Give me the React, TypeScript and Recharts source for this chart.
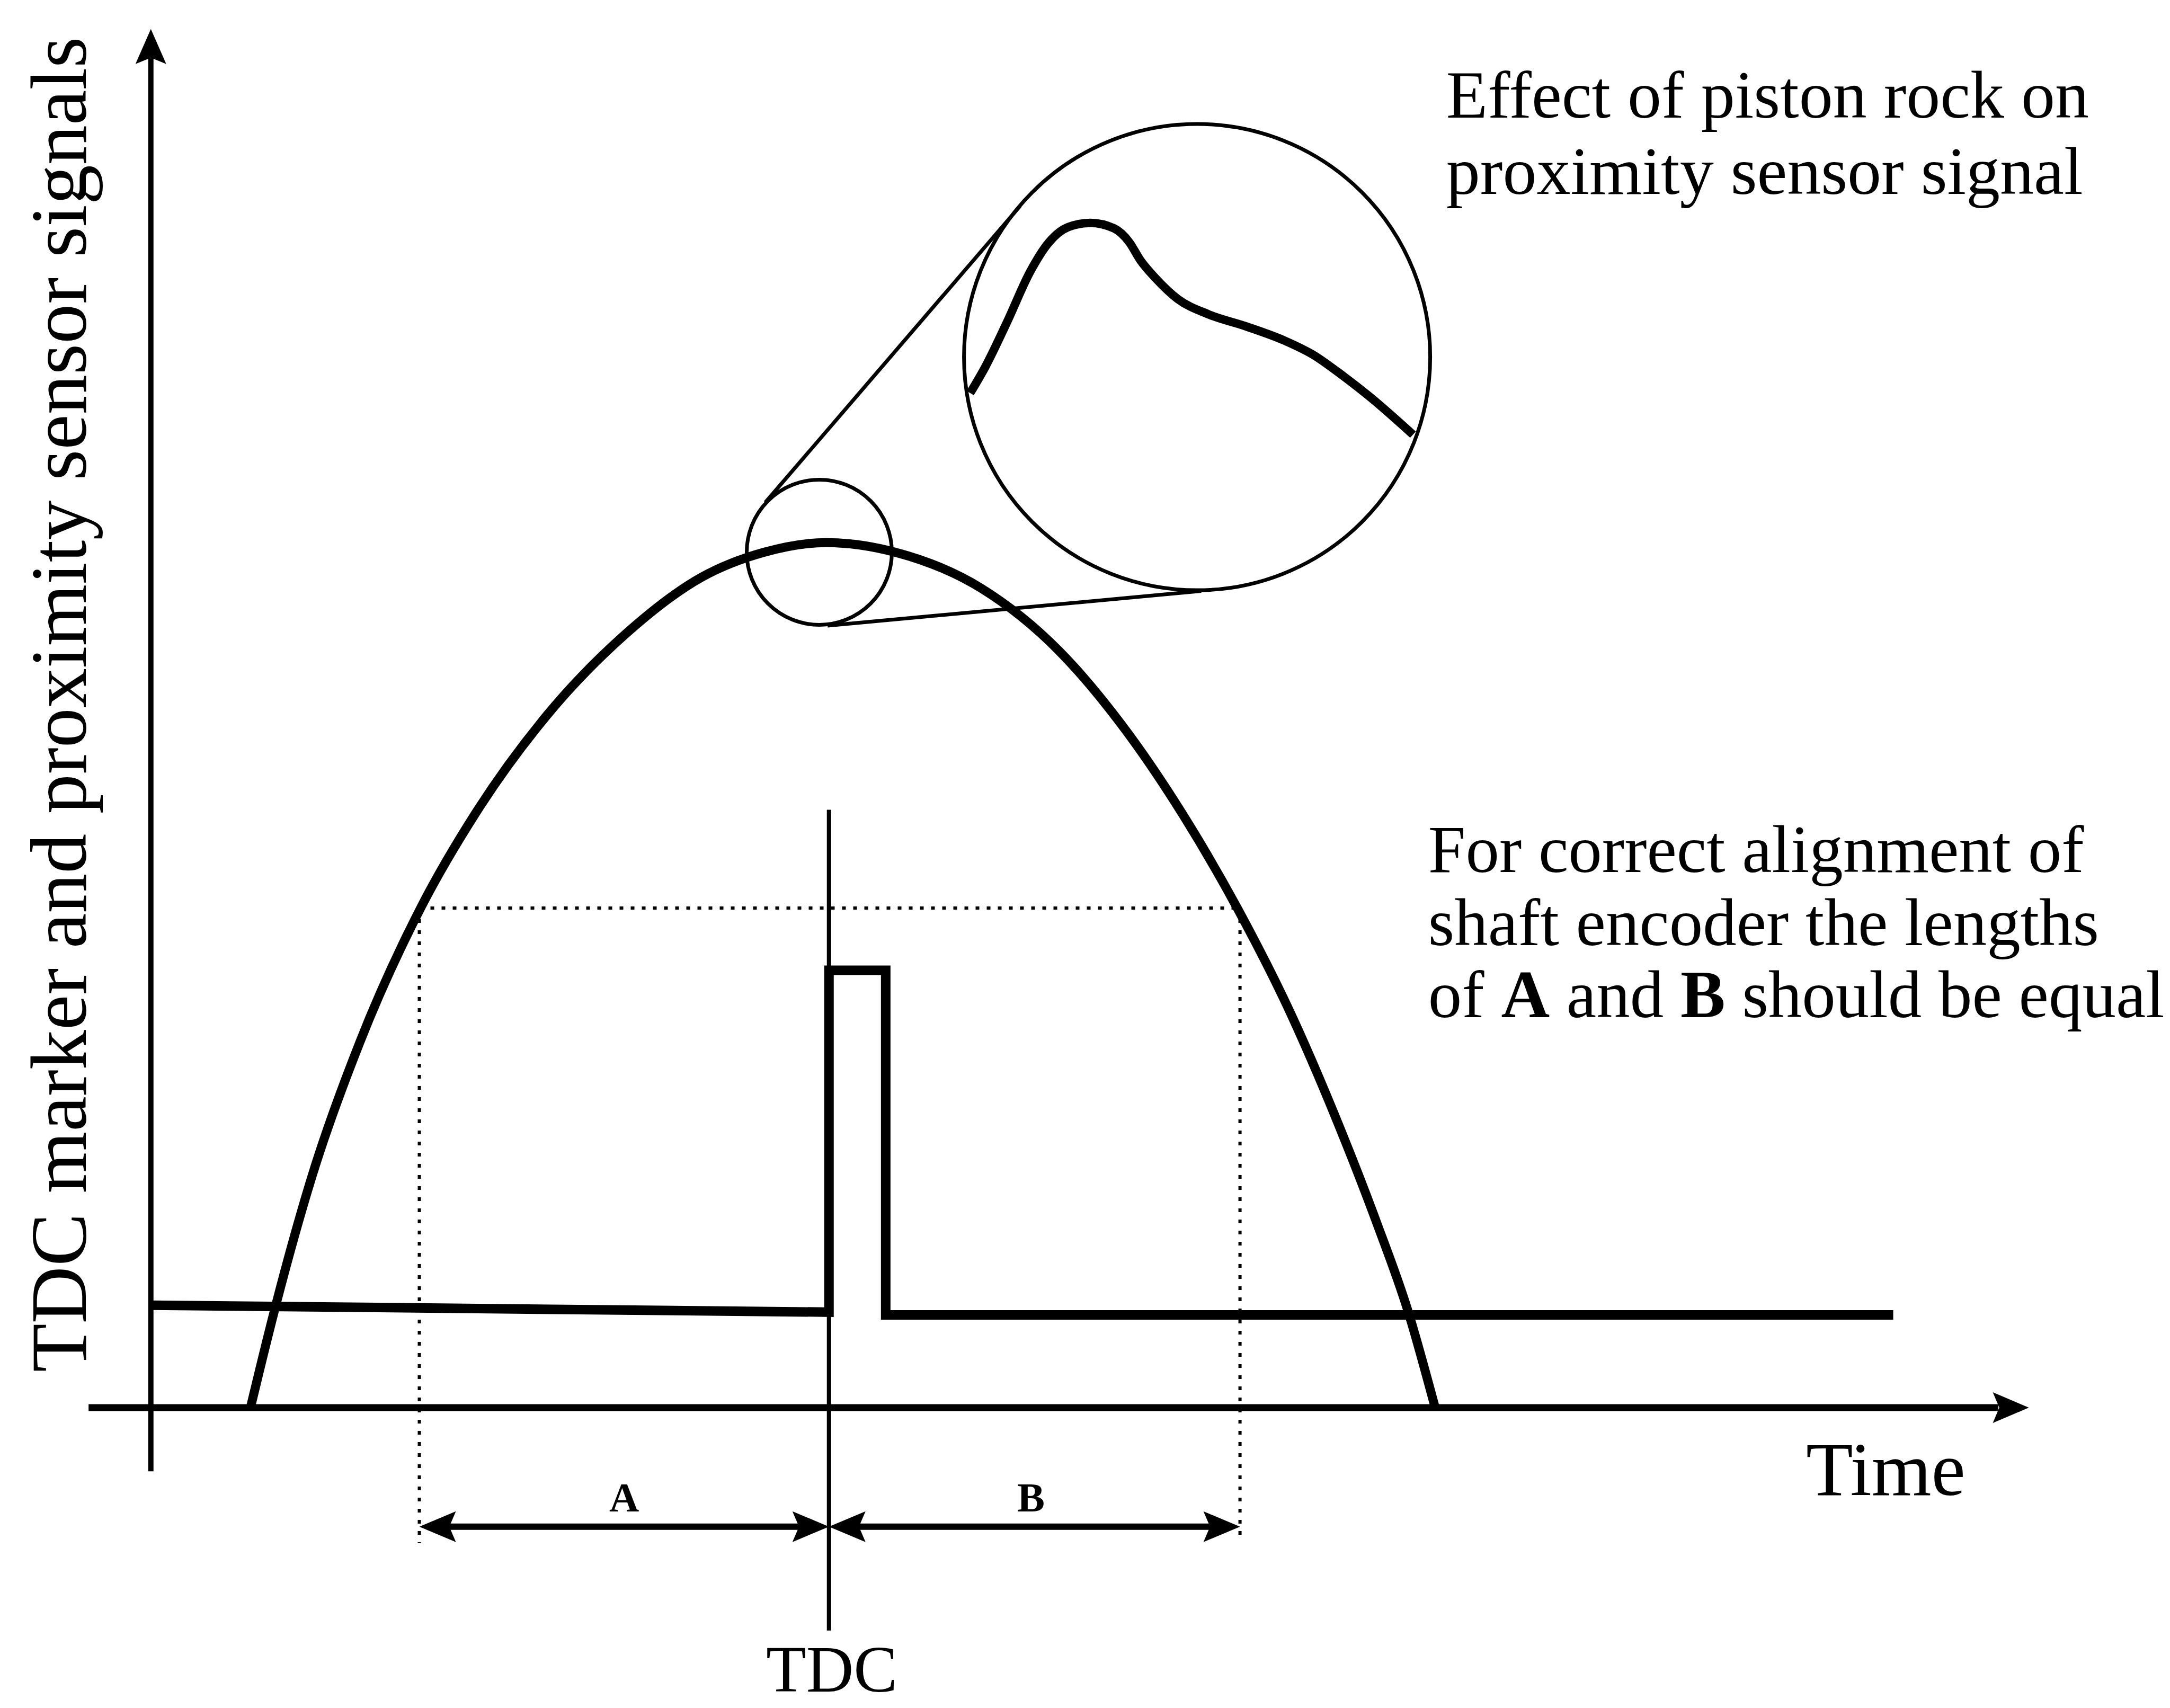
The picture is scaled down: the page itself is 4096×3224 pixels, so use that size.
import React from "react";
import { ComposedChart, Line, XAxis, YAxis, ReferenceLine, ReferenceDot } from "recharts";

const W = 4096;
const H = 3224;
const FONT = "'Liberation Serif', 'Times New Roman', serif";

// time / signal domain (axes cross at 0,0)
const timeDomain = [-109, 1459];
const levelDomain = [-217, 1017];

// proximity sensor signal
const proximity = [
  { t: 72, s: 0 }, { t: 89, s: 69 }, { t: 117, s: 169 }, { t: 151, s: 264 },
  { t: 196, s: 363 }, { t: 235, s: 430 }, { t: 286, s: 500 }, { t: 342, s: 558 },
  { t: 398, s: 600 }, { t: 443, s: 618 }, { t: 488, s: 625 }, { t: 538, s: 618 },
  { t: 600, s: 592 }, { t: 656, s: 547 }, { t: 701, s: 494 }, { t: 746, s: 428 },
  { t: 785, s: 361 }, { t: 824, s: 284 }, { t: 858, s: 205 }, { t: 886, s: 133 },
  { t: 908, s: 71 }, { t: 928, s: 0 },
];

// TDC marker pulse
const tdcMarker = [
  { t: 1, s: 74 }, { t: 490, s: 69 }, { t: 490, s: 316 }, { t: 531, s: 316 },
  { t: 531, s: 67 }, { t: 1259, s: 67 },
];

// magnified piston-rock detail drawn inside the big circle
const rockDetail = [
  { t: 592, s: 733 }, { t: 603, s: 752 }, { t: 619, s: 785 }, { t: 635, s: 820 },
  { t: 649, s: 842 }, { t: 663, s: 853 }, { t: 679, s: 856 }, { t: 696, s: 852 },
  { t: 707, s: 842 }, { t: 715, s: 829 }, { t: 726, s: 816 }, { t: 742, s: 801 },
  { t: 764, s: 790 }, { t: 792, s: 781 }, { t: 819, s: 771 }, { t: 841, s: 760 },
  { t: 858, s: 748 }, { t: 880, s: 731 }, { t: 912, s: 703 },
];

// guide positions
const levelAB = 361;
const edgeA = 194;
const tdcTime = 490;
const edgeB = 787;
const arrowLevel = -86;
const smallLens = { t: 483, s: 618 };
const bigLens = { t: 756, s: 759 };
const lensLinks = [
  [{ x: 444, y: 654 }, { x: 628, y: 868 }],
  [{ x: 489, y: 565 }, { x: 759, y: 590 }],
];

const yLabel = "TDC marker and proximity sensor signals";
const noteTop = ["Effect of piston rock on", "proximity sensor signal"];
const noteMid = ["For correct alignment of", "shaft encoder the lengths"];

const head = (dir: string, len: number, half: number) => (p: any) => {
  const { cx, cy } = p;
  const n = len * 0.82;
  let pts: number[][] = [];
  if (dir === "up") pts = [[cx, cy], [cx + half, cy + len], [cx, cy + n], [cx - half, cy + len]];
  if (dir === "right") pts = [[cx, cy], [cx - len, cy - half], [cx - n, cy], [cx - len, cy + half]];
  if (dir === "left") pts = [[cx, cy], [cx + len, cy - half], [cx + n, cy], [cx + len, cy + half]];
  return <polygon points={pts.map((q) => q.join(",")).join(" ")} fill="#000" />;
};

const ring = (r: number) => (p: any) => (
  <circle cx={p.cx} cy={p.cy} r={r} fill="none" stroke="#000" strokeWidth={7} />
);

const label = (txt: string, size: number, anchor = "start", weight = "normal") => (p: any) => (
  <text x={p.cx} y={p.cy} fontFamily={FONT} fontSize={size} fontWeight={weight} textAnchor={anchor} fill="#000">
    {txt}
  </text>
);

export default function App() {
  return (
    <div style={{ width: W, height: H, background: "#fff" }}>
      <style>{"html,body{margin:0;padding:0;background:#fff}"}</style>
      <ComposedChart width={W} height={H} margin={{ top: 0, right: 0, bottom: 0, left: 0 }}>
        <XAxis type="number" dataKey="t" domain={timeDomain} allowDataOverflow hide />
        <YAxis type="number" dataKey="s" domain={levelDomain} allowDataOverflow hide />

        {/* axes */}
        <ReferenceLine ifOverflow="visible" segment={[{ x: 0, y: -46 }, { x: 0, y: 975 }]} stroke="#000" strokeWidth={10} />
        <ReferenceDot ifOverflow="visible" x={0} y={996} shape={head("up", 66, 29)} />
        <ReferenceLine ifOverflow="visible" segment={[{ x: -45, y: 0 }, { x: 1335, y: 0 }]} stroke="#000" strokeWidth={13} />
        <ReferenceDot ifOverflow="visible" x={1357} y={0} shape={head("right", 68, 29)} />

        {/* dotted guides */}
        <ReferenceLine ifOverflow="visible" segment={[{ x: edgeA, y: levelAB }, { x: edgeB, y: levelAB }]} stroke="#000" strokeWidth={6} strokeDasharray="7 14" />
        <ReferenceLine ifOverflow="visible" segment={[{ x: edgeA, y: levelAB }, { x: edgeA, y: -98 }]} stroke="#000" strokeWidth={6} strokeDasharray="7 14" />
        <ReferenceLine ifOverflow="visible" segment={[{ x: edgeB, y: levelAB }, { x: edgeB, y: -93 }]} stroke="#000" strokeWidth={6} strokeDasharray="7 14" />

        {/* TDC line */}
        <ReferenceLine ifOverflow="visible" segment={[{ x: tdcTime, y: 432 }, { x: tdcTime, y: -161 }]} stroke="#000" strokeWidth={8} />

        {/* A and B arrows */}
        <ReferenceLine ifOverflow="visible" segment={[{ x: edgeA + 15, y: arrowLevel }, { x: tdcTime - 15, y: arrowLevel }]} stroke="#000" strokeWidth={12} />
        <ReferenceLine ifOverflow="visible" segment={[{ x: tdcTime + 15, y: arrowLevel }, { x: edgeB - 15, y: arrowLevel }]} stroke="#000" strokeWidth={12} />
        <ReferenceDot ifOverflow="visible" x={edgeA} y={arrowLevel} shape={head("left", 69, 29)} />
        <ReferenceDot ifOverflow="visible" x={tdcTime} y={arrowLevel} shape={head("right", 69, 29)} />
        <ReferenceDot ifOverflow="visible" x={tdcTime} y={arrowLevel} shape={head("left", 69, 29)} />
        <ReferenceDot ifOverflow="visible" x={edgeB} y={arrowLevel} shape={head("right", 69, 29)} />

        {/* magnifier */}
        <ReferenceDot ifOverflow="visible" x={smallLens.t} y={smallLens.s} shape={ring(137)} />
        <ReferenceDot ifOverflow="visible" x={bigLens.t} y={bigLens.s} shape={ring(440)} />
        {lensLinks.map((seg, i) => (
          <ReferenceLine key={i} ifOverflow="visible" segment={seg} stroke="#000" strokeWidth={7} />
        ))}

        <Line data={proximity} dataKey="s" type="monotone" stroke="#000" strokeWidth={17} dot={false} activeDot={false} isAnimationActive={false} />
        <Line data={tdcMarker} dataKey="s" type="linear" stroke="#000" strokeWidth={18} strokeLinejoin="miter" dot={false} activeDot={false} isAnimationActive={false} />
        <Line data={rockDetail} dataKey="s" type="monotone" stroke="#000" strokeWidth={16} dot={false} activeDot={false} isAnimationActive={false} />

        {/* texts */}
        <ReferenceDot ifOverflow="visible" x={-47} y={508} shape={(p: any) => (
          <text x={p.cx} y={p.cy} transform={`rotate(-90 ${p.cx} ${p.cy})`} fontFamily={FONT} fontSize={150} textAnchor="middle" fill="#000">
            {yLabel}
          </text>
        )} />
        <ReferenceDot ifOverflow="visible" x={342} y={-75} shape={label("A", 78, "middle", "bold")} />
        <ReferenceDot ifOverflow="visible" x={636} y={-75} shape={label("B", 78, "middle", "bold")} />
        <ReferenceDot ifOverflow="visible" x={492} y={-205} shape={label("TDC", 124, "middle")} />
        <ReferenceDot ifOverflow="visible" x={1196} y={-63} shape={label("Time", 145)} />
        <ReferenceDot ifOverflow="visible" x={936} y={932} shape={label(noteTop[0], 128)} />
        <ReferenceDot ifOverflow="visible" x={936} y={877} shape={label(noteTop[1], 128)} />
        <ReferenceDot ifOverflow="visible" x={923} y={387} shape={label(noteMid[0], 127)} />
        <ReferenceDot ifOverflow="visible" x={923} y={334} shape={label(noteMid[1], 127)} />
        <ReferenceDot ifOverflow="visible" x={923} y={282} shape={(p: any) => (
          <text x={p.cx} y={p.cy} fontFamily={FONT} fontSize={127} fill="#000" style={{ whiteSpace: "pre" }}>
            <tspan>of </tspan>
            <tspan fontWeight="bold">A</tspan>
            <tspan> and </tspan>
            <tspan fontWeight="bold">B</tspan>
            <tspan> should be equal</tspan>
          </text>
        )} />
      </ComposedChart>
    </div>
  );
}
